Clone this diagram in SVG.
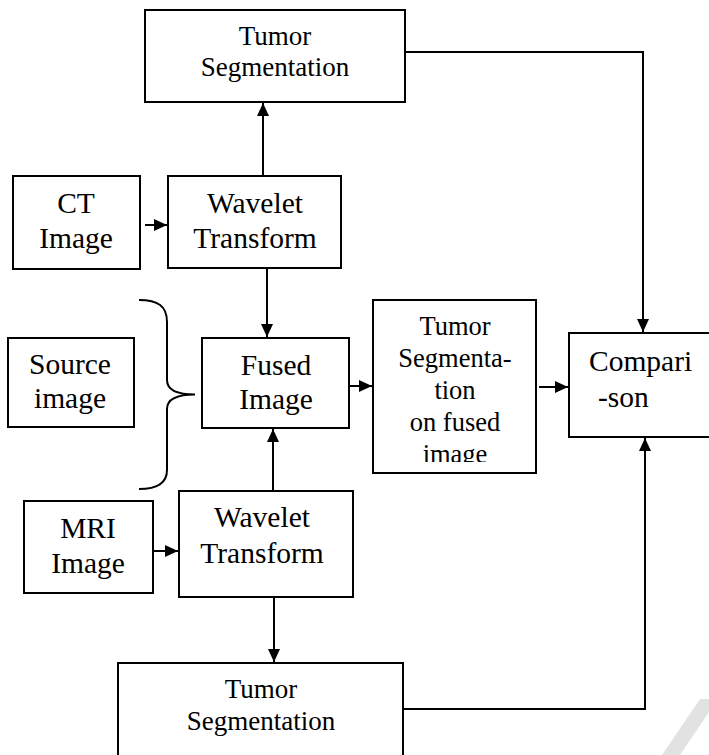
<svg xmlns="http://www.w3.org/2000/svg" width="709" height="755" viewBox="0 0 709 755">
<style>
.box{fill:#fff;stroke:#000;stroke-width:2}
.t{font-size:29.5px;fill:#000;text-anchor:middle}
.ts{font-size:27px}
.tf{font-size:26.5px}
.ln{fill:none;stroke:#000;stroke-width:2}
</style>
<defs>
<marker id="ah" markerUnits="userSpaceOnUse" markerWidth="14" markerHeight="14" viewBox="0 0 14 14" refX="13" refY="7" orient="auto">
<path d="M0,1 L13,7 L0,13 z" fill="#000"/>
</marker>
<clipPath id="clipTF"><rect x="373" y="300" width="164" height="162"/></clipPath>
</defs>
<rect width="709" height="755" fill="#fff"/>
<path d="M662,755 L700,699 L709,699 L709,712 L680,755 Z" fill="#e2e2e2"/>
<g id="connectors">
<line class="ln" x1="263" y1="176" x2="263" y2="103" marker-end="url(#ah)"/>
<line class="ln" x1="145" y1="225" x2="167" y2="225" marker-end="url(#ah)"/>
<line class="ln" x1="267" y1="268" x2="267" y2="337" marker-end="url(#ah)"/>
<line class="ln" x1="273" y1="491" x2="273" y2="429" marker-end="url(#ah)"/>
<line class="ln" x1="153" y1="551" x2="178" y2="551" marker-end="url(#ah)"/>
<line class="ln" x1="274" y1="597" x2="274" y2="662" marker-end="url(#ah)"/>
<line class="ln" x1="349" y1="386" x2="372" y2="386" marker-end="url(#ah)"/>
<line class="ln" x1="539" y1="387" x2="568" y2="387" marker-end="url(#ah)"/>
<polyline class="ln" points="403,52 643,52 643,332" marker-end="url(#ah)"/>
<polyline class="ln" points="403,709 645,709 645,438" marker-end="url(#ah)"/>
<path class="ln" d="M139,300 C158,300 167,306 167,322 L167,380 C167,390 178,394.5 195,394.5 C178,394.5 167,399 167,409 L167,470 C167,483 158,489 139,489"/>
</g>
<g font-family="Liberation Serif, Times New Roman, Times, DejaVu Serif, serif">
<g id="tumor-seg-top">
<rect class="box" x="145" y="10" width="260" height="92"/>
<text class="t ts" x="275" y="45">Tumor</text>
<text class="t ts" x="275" y="76">Segmentation</text>
</g>
<g id="ct-image">
<rect class="box" x="13" y="176" width="127" height="93"/>
<text class="t" x="76" y="213">CT</text>
<text class="t" x="76" y="248">Image</text>
</g>
<g id="wavelet-top">
<rect class="box" x="168" y="176" width="173" height="92"/>
<text class="t" x="255" y="213">Wavelet</text>
<text class="t" x="255" y="248">Transform</text>
</g>
<g id="source-image">
<rect class="box" x="8" y="338" width="126" height="89"/>
<text class="t" x="70" y="374">Source</text>
<text class="t" x="70" y="408">image</text>
</g>
<g id="fused-image">
<rect class="box" x="202" y="338" width="147" height="90"/>
<text class="t" x="276" y="375">Fused</text>
<text class="t" x="276" y="409">Image</text>
</g>
<g id="tumor-seg-fused">
<rect class="box" x="373" y="300" width="163" height="173"/>
<g clip-path="url(#clipTF)">
<text class="t tf" x="455" y="335">Tumor</text>
<text class="t tf" x="455" y="367">Segmenta-</text>
<text class="t tf" x="455" y="399">tion</text>
<text class="t tf" x="455" y="431">on fused</text>
<text class="t tf" x="455" y="463">image</text>
</g>
</g>
<g id="comparison">
<rect class="box" x="569" y="333" width="150" height="104"/>
<text class="t" x="589" y="371" style="text-anchor:start">Compari</text>
<text class="t" x="598" y="407" style="text-anchor:start">-son</text>
</g>
<g id="mri-image">
<rect class="box" x="24" y="501" width="129" height="92"/>
<text class="t" x="88" y="538">MRI</text>
<text class="t" x="88" y="573">Image</text>
</g>
<g id="wavelet-bottom">
<rect class="box" x="179" y="491" width="174" height="106"/>
<text class="t" x="262" y="527">Wavelet</text>
<text class="t" x="262" y="563">Transform</text>
</g>
<g id="tumor-seg-bottom">
<rect class="box" x="118" y="663" width="285" height="100"/>
<text class="t ts" x="261" y="698">Tumor</text>
<text class="t ts" x="261" y="730">Segmentation</text>
</g>
</g>
</svg>
